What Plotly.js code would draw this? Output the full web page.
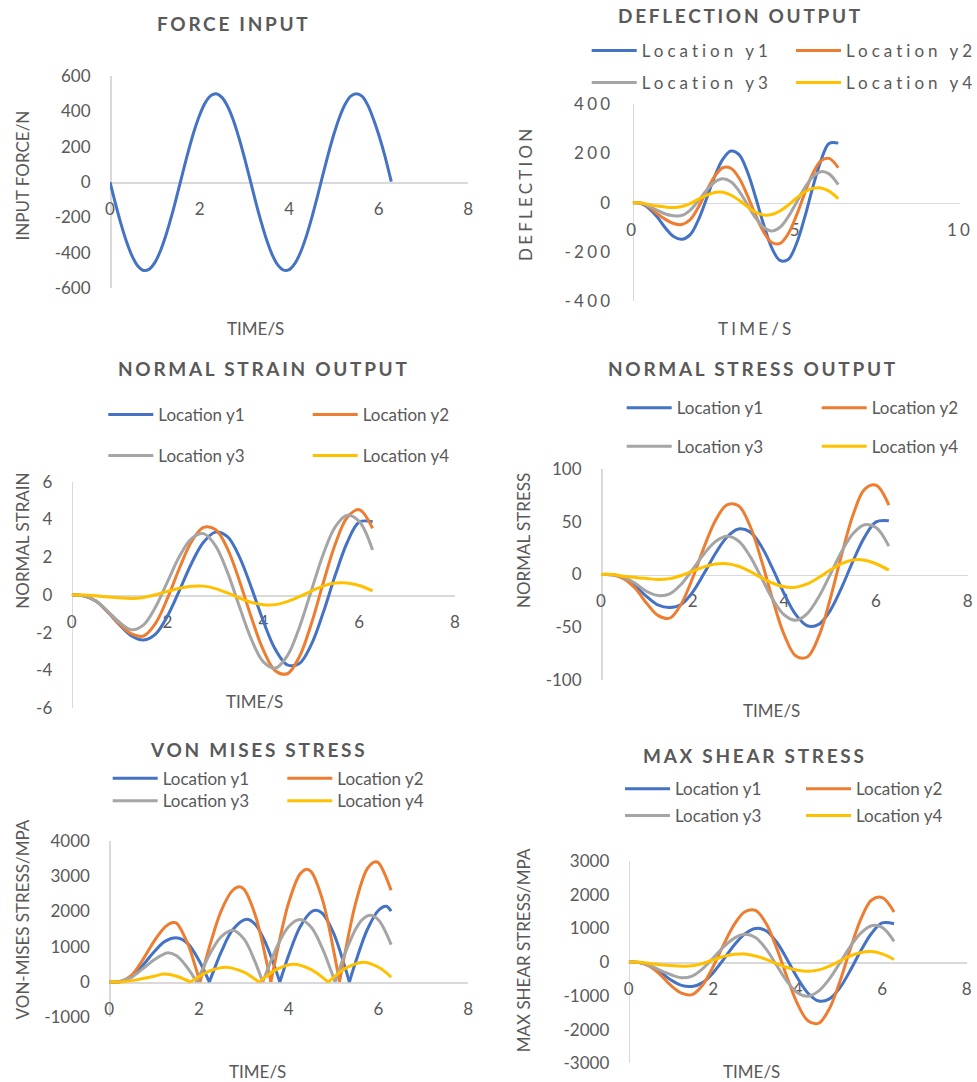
<!DOCTYPE html>
<html>
<head>
<meta charset="utf-8">
<script src="https://cdn.plot.ly/plotly-3.0.1.min.js"></script>
<style>html,body{margin:0;padding:0;background:#fff;}</style>
</head>
<body>
<div id="chart" style="width:977px;height:1082px;"></div>
<script>
// ---- data ----
const time = [0,0.25,0.5,0.75,1,1.25,1.5,1.75,2,2.25,2.5,2.75,3,3.25,3.5,3.75,4,4.25,4.5,4.75,5,5.25,5.5,5.75,6,6.28];
const seriesNames = ['Location y1','Location y2','Location y3','Location y4'];

const forceTime = [0,0.125,0.25,0.375,0.5,0.625,0.75,0.875,1,1.125,1.25,1.375,1.5,1.625,1.75,1.875,2,2.125,2.25,2.375,2.5,2.625,2.75,2.875,3,3.125,3.25,3.375,3.5,3.625,3.75,3.875,4,4.125,4.25,4.375,4.5,4.625,4.75,4.875,5,5.125,5.25,5.375,5.5,5.625,5.75,5.875,6,6.125,6.28];
const forceInput = [0,-124,-240,-341,-421,-475,-499,-492,-455,-389,-299,-191,-71,54,175,286,378,448,489,500,479,429,353,254,140,17,-108,-225,-329,-412,-469,-497,-495,-461,-399,-312,-206,-87,38,160,272,367,440,486,500,486,438,361,268,160,3];

const deflectionY1 = [0,-3,-24,-58,-103,-138,-149,-131,-72,14,105,176,210,195,127,24,-89,-184,-235,-231,-168,-62,61,171,241,242];
const deflectionY2 = [0,-2,-18,-45,-68,-85,-89,-70,-20,46,106,142,140,100,31,-49,-119,-162,-166,-127,-53,36,118,170,180,142];
const deflectionY3 = [0,-1,-15,-31,-46,-53,-52,-31,7,49,83,97,85,47,-7,-61,-100,-115,-100,-58,0,59,105,126,117,73];
const deflectionY4 = [0,-1,-8,-14,-18,-20,-16,-4,13,30,41,42,31,10,-16,-38,-50,-48,-34,-10,18,43,58,60,47,16];

const strainY1 = [0,-0.04,-0.32,-0.90,-1.58,-2.17,-2.38,-2.07,-1.11,0.25,1.67,2.79,3.33,3.09,2.02,0.39,-1.39,-2.88,-3.70,-3.63,-2.63,-0.93,1.04,2.78,3.86,3.88];
const strainY2 = [0,-0.04,-0.31,-0.88,-1.55,-2.06,-2.17,-1.50,-0.17,1.43,2.82,3.58,3.47,2.46,0.76,-1.19,-2.92,-4.01,-4.17,-3.28,-1.54,0.64,2.69,4.10,4.52,3.53];
const strainY3 = [0,-0.04,-0.30,-0.85,-1.45,-1.84,-1.58,-0.64,0.71,2.05,2.99,3.25,2.62,1.21,-0.61,-2.35,-3.54,-3.87,-3.22,-1.73,0.22,2.16,3.61,4.22,3.90,2.38];
const strainY4 = [0,0,-0.04,-0.10,-0.15,-0.18,-0.13,0.01,0.19,0.36,0.46,0.47,0.34,0.11,-0.16,-0.39,-0.52,-0.51,-0.35,-0.09,0.21,0.47,0.63,0.63,0.50,0.22];

const stressY1 = [0,-0.3,-3.2,-11,-21,-29,-31.2,-28.4,-16.7,1.1,20.2,35.6,43.2,40.4,26.6,5.1,-18.5,-38.1,-48.6,-47.3,-34.2,-12.4,12.9,35.4,49.9,50.9];
const stressY2 = [0,-0.3,-4.1,-13.3,-27.5,-39,-41.4,-27.9,-3.2,26.1,51.5,66.1,65.2,46.2,13.5,-24.4,-57.5,-77.2,-78.2,-58.7,-23.2,18.8,56.6,80.6,84.6,65.7];
const stressY3 = [0,-0.3,-2.8,-8.5,-16.1,-20,-18.4,-9.2,4.9,19.7,31.3,36.2,31.8,17.4,-3.1,-23.7,-38.4,-43.3,-37.0,-21.3,-0.1,21.8,38.9,47.2,44.6,26.9];
const stressY4 = [0,0,-1.6,-2.8,-3.8,-4.7,-3.9,-0.9,3.2,7.2,9.9,10.2,7.8,2.9,-3.0,-8.3,-11.7,-12.0,-8.9,-2.9,4.2,10.4,13.8,13.6,10.2,4.1];

// von Mises humps are separated at their zero cusps (null = break in the line)
const vonMisesTimeY1 = [0,0.25,0.5,0.75,1,1.25,1.52,1.75,2,2.1,2.23,null,2.23,2.35,2.5,2.75,3.06,3.25,3.5,3.7,3.8,null,3.8,3.9,4,4.25,4.5,4.61,4.75,5,5.25,5.35,null,5.35,5.5,5.75,6,6.17,6.28];
const vonMisesY1 = [0,15,160,480,860,1160,1250,1091,609,355,0,null,0,401,870,1483,1780,1637,1057,376,0,null,0,393,770,1560,1989,2036,1946,1378,430,0,null,0,609,1490,2036,2150,2010];
const vonMisesTimeY2 = [0,0.25,0.5,0.75,1,1.25,1.41,1.5,1.75,1.9,2.02,null,2.02,2.12,2.25,2.5,2.75,2.9,3,3.25,3.5,3.6,null,3.6,3.7,3.85,4,4.25,4.4,4.5,4.75,5,5.13,null,5.13,5.25,5.5,5.75,5.92,6,6.28];
const vonMisesY2 = [0,15,200,640,1160,1570,1686,1670,1080,512,0,null,0,481,1077,2040,2602,2699,2631,1908,602,0,null,0,624,1508,2263,3063,3201,3128,2337,883,0,null,0,806,2288,3215,3409,3380,2604];
const vonMisesTimeY3 = [0,0.25,0.5,0.75,1,1.25,1.31,1.5,1.75,1.85,1.95,null,1.95,2.05,2.25,2.5,2.75,3,3.25,3.32,3.42,null,3.42,3.52,3.75,4,4.25,4.5,4.75,4.93,5.03,null,5.03,5.13,5.25,5.5,5.65,5.82,6,6.28];
const vonMisesY3 = [0,15,140,380,630,810,833,744,392,202,0,null,0,286,816,1295,1468,1223,570,342,0,null,0,333,1036,1576,1771,1551,947,354,0,null,0,374,803,1523,1786,1894,1758,1061];
const vonMisesTimeY4 = [0,0.25,0.5,0.75,1,1.22,1.5,1.7,1.81,null,1.81,1.95,2.25,2.6,3,3.2,3.34,null,3.34,3.5,3.75,4.11,4.5,4.75,4.88,null,4.88,5,5.25,5.66,6,6.28];
const vonMisesY4 = [0,3,40,100,165,225,165,65,0,null,0,115,322,420,278,123,0,null,0,162,375,505,354,132,0,null,0,134,380,560,420,142];

const shearY1 = [0,-10,-100,-300,-530,-690,-721,-608,-314,92,510,839,999,932,597,80,-479,-929,-1154,-1091,-757,-234,352,858,1163,1140];
const shearY2 = [0,-10,-128,-375,-692,-919,-965,-678,-131,527,1121,1494,1534,1151,423,-456,-1248,-1745,-1806,-1379,-568,409,1291,1844,1915,1490];
const shearY3 = [0,-10,-99,-247,-375,-464,-412,-194,123,456,714,828,732,392,-92,-575,-915,-1011,-853,-497,-18,476,870,1081,1030,618];
const shearY4 = [0,0,-40,-79,-99,-119,-110,-39,67,170,235,239,184,83,-41,-158,-242,-272,-230,-116,37,186,288,314,245,78];

// ---- styling ----
const W = 977, H = 1082;
const FONT = 'Lato, "Open Sans", sans-serif';
const TEXT = '#595959';
const AXIS_LINE = '#D9D9D9';
const colors = ['#4472C4', '#ED7D31', '#A5A5A5', '#FFC000'];
const px = v => v / W;          // pixel column -> paper x
const py = v => 1 - v / H;      // pixel row -> paper y

function spaced(s, ls) {
  return ls ? '<span style="letter-spacing:' + ls + 'px">' + s + '</span>' : s;
}

const panels = [
  { title: 'FORCE INPUT', xTitle: 'TIME/S', yTitle: 'INPUT FORCE/N',
    box: [110, 468.3, 76, 288.3], xRange: [0, 8], xStep: 2, yRange: [-600, 600], yStep: 200,
    titleAt: [233, 24], xTitleAt: [255, 329], yTitleAt: [22, 175.5], ls: 0, legendLs: 0,
    series: [[forceTime, forceInput]], legend: null },
  { title: 'DEFLECTION OUTPUT', xTitle: 'TIME/S', yTitle: 'DEFLECTION',
    box: [632.7, 960, 104.3, 301], xRange: [0, 10], xStep: 5, yRange: [-400, 400], yStep: 200,
    titleAt: [740, 16], xTitleAt: [756, 328], yTitleAt: [525, 194], ls: 3.2, legendLs: 4,
    series: [[time, deflectionY1], [time, deflectionY2], [time, deflectionY3], [time, deflectionY4]],
    legend: { x1: 591.7, x2: 796, rows: [51, 83] } },
  { title: 'NORMAL STRAIN OUTPUT', xTitle: 'TIME/S', yTitle: 'NORMAL STRAIN',
    box: [71.7, 455, 481.7, 708.3], xRange: [0, 8], xStep: 2, yRange: [-6, 6], yStep: 2,
    titleAt: [263.5, 368.3], xTitleAt: [254, 701.7], yTitleAt: [21.7, 541], ls: 0, legendLs: 0,
    series: [[time, strainY1], [time, strainY2], [time, strainY3], [time, strainY4]],
    legend: { x1: 108.3, x2: 312.7, rows: [415, 456] } },
  { title: 'NORMAL STRESS OUTPUT', xTitle: 'TIME/S', yTitle: 'NORMAL STRESS',
    box: [601, 967.7, 469, 680], xRange: [0, 8], xStep: 2, yRange: [-100, 100], yStep: 50,
    titleAt: [753, 368.3], xTitleAt: [771, 710], yTitleAt: [523.3, 540.7], ls: 0, legendLs: 0,
    series: [[time, stressY1], [time, stressY2], [time, stressY3], [time, stressY4]],
    legend: { x1: 626.7, x2: 821.7, rows: [408.3, 446.7] } },
  { title: 'VON MISES STRESS', xTitle: 'TIME/S', yTitle: 'VON-MISES STRESS/MPA',
    box: [109.3, 468.3, 841, 1017.3], xRange: [0, 8], xStep: 2, yRange: [-1000, 4000], yStep: 1000,
    titleAt: [258.3, 749.3], xTitleAt: [257.3, 1071.7], yTitleAt: [22.7, 919.7], ls: 0, legendLs: 0,
    series: [[vonMisesTimeY1, vonMisesY1], [vonMisesTimeY2, vonMisesY2], [vonMisesTimeY3, vonMisesY3], [vonMisesTimeY4, vonMisesY4]],
    legend: { x1: 112.7, x2: 287.3, rows: [778.7, 801.3] } },
  { title: 'MAX SHEAR STRESS', xTitle: 'TIME/S', yTitle: 'MAX SHEAR STRESS/MPA',
    box: [628.7, 966.7, 861, 1063.3], xRange: [0, 8], xStep: 2, yRange: [-3000, 3000], yStep: 1000,
    titleAt: [755, 755], xTitleAt: [751.7, 1071.7], yTitleAt: [523.3, 950], ls: 0, legendLs: 0,
    series: [[time, shearY1], [time, shearY2], [time, shearY3], [time, shearY4]],
    legend: { x1: 625, x2: 806, rows: [789.3, 816] } }
];

const layout = {
  width: W, height: H,
  margin: { l: 0, r: 0, t: 0, b: 0, autoexpand: false },
  paper_bgcolor: '#ffffff', plot_bgcolor: 'rgba(0,0,0,0)',
  font: { family: FONT, color: TEXT },
  showlegend: true,
  annotations: []
};
const traces = [];
let legendCount = 0;

function ticksFor(range, step, ls) {
  const vals = [], text = [];
  for (let v = range[0]; v <= range[1] + 1e-9; v += step) {
    vals.push(v);
    text.push(spaced(String(v), ls));
  }
  return { vals, text };
}

function label(text, at, opts) {
  layout.annotations.push(Object.assign({
    text: text, xref: 'paper', yref: 'paper', x: px(at[0]), y: py(at[1]),
    xanchor: 'center', yanchor: 'middle', showarrow: false
  }, opts));
}

panels.forEach((p, i) => {
  const n = i + 1;
  const sfx = n === 1 ? '' : String(n);
  const [l, r, t, b] = p.box;
  const zeroPx = t + (p.yRange[1] / (p.yRange[1] - p.yRange[0])) * (b - t);
  const tickFont = { family: FONT, size: 17, color: TEXT };
  const xt = ticksFor(p.xRange, p.xStep, p.ls);
  const yt = ticksFor(p.yRange, p.yStep, p.ls);

  layout['xaxis' + sfx] = {
    domain: [px(l), px(r)], range: p.xRange, anchor: 'free', position: py(zeroPx),
    showline: true, linecolor: AXIS_LINE, linewidth: 1.5, showgrid: false, zeroline: false,
    ticks: '', tickmode: 'array', tickvals: xt.vals, ticktext: xt.text, tickfont: tickFont,
    ticklabelstandoff: 11, layer: 'below traces', fixedrange: true
  };
  layout['yaxis' + sfx] = {
    domain: [py(b), py(t)], range: p.yRange, anchor: 'free', position: px(l),
    showline: true, linecolor: AXIS_LINE, linewidth: 1.5, showgrid: false, zeroline: false,
    ticks: '', tickmode: 'array', tickvals: yt.vals, ticktext: yt.text, tickfont: tickFont,
    ticklabelstandoff: 16, layer: 'below traces', fixedrange: true
  };

  // panel title and axis titles
  label(spaced(p.title, 2.7), p.titleAt, { font: { family: FONT, size: 19, color: TEXT, weight: 700 } });
  label(spaced(p.xTitle, p.ls), p.xTitleAt, { font: { family: FONT, size: 17, color: TEXT } });
  label(spaced(p.yTitle, p.ls), p.yTitleAt, { font: { family: FONT, size: 17, color: TEXT }, textangle: -90 });

  // legends: two rows of two entries each
  const rowIds = [];
  if (p.legend) {
    p.legend.rows.forEach(rowY => {
      legendCount += 1;
      const id = legendCount === 1 ? 'legend' : 'legend' + legendCount;
      rowIds.push(id);
      layout[id] = {
        orientation: 'h', xref: 'paper', yref: 'paper',
        x: px(p.legend.x1 - 5), xanchor: 'left', y: py(rowY), yanchor: 'middle',
        itemwidth: 45, entrywidth: (p.legend.x2 - p.legend.x1) - 60, entrywidthmode: 'pixels',
        font: { family: FONT, size: 17, color: TEXT },
        bgcolor: 'rgba(0,0,0,0)', borderwidth: 0, tracegroupgap: 0,
        itemclick: false, itemdoubleclick: false
      };
    });
  }

  p.series.forEach((s, k) => {
    traces.push({
      type: 'scatter', mode: 'lines', x: s[0], y: s[1],
      xaxis: 'x' + sfx, yaxis: 'y' + sfx,
      name: spaced(seriesNames[k], p.legendLs),
      line: { color: colors[k], width: 3, shape: 'spline', smoothing: 1 },
      showlegend: !!p.legend,
      legend: p.legend ? rowIds[k < 2 ? 0 : 1] : undefined,
      hoverinfo: 'skip'
    });
  });
});

Plotly.newPlot('chart', traces, layout, { staticPlot: true, displayModeBar: false });
</script>
</body>
</html>
